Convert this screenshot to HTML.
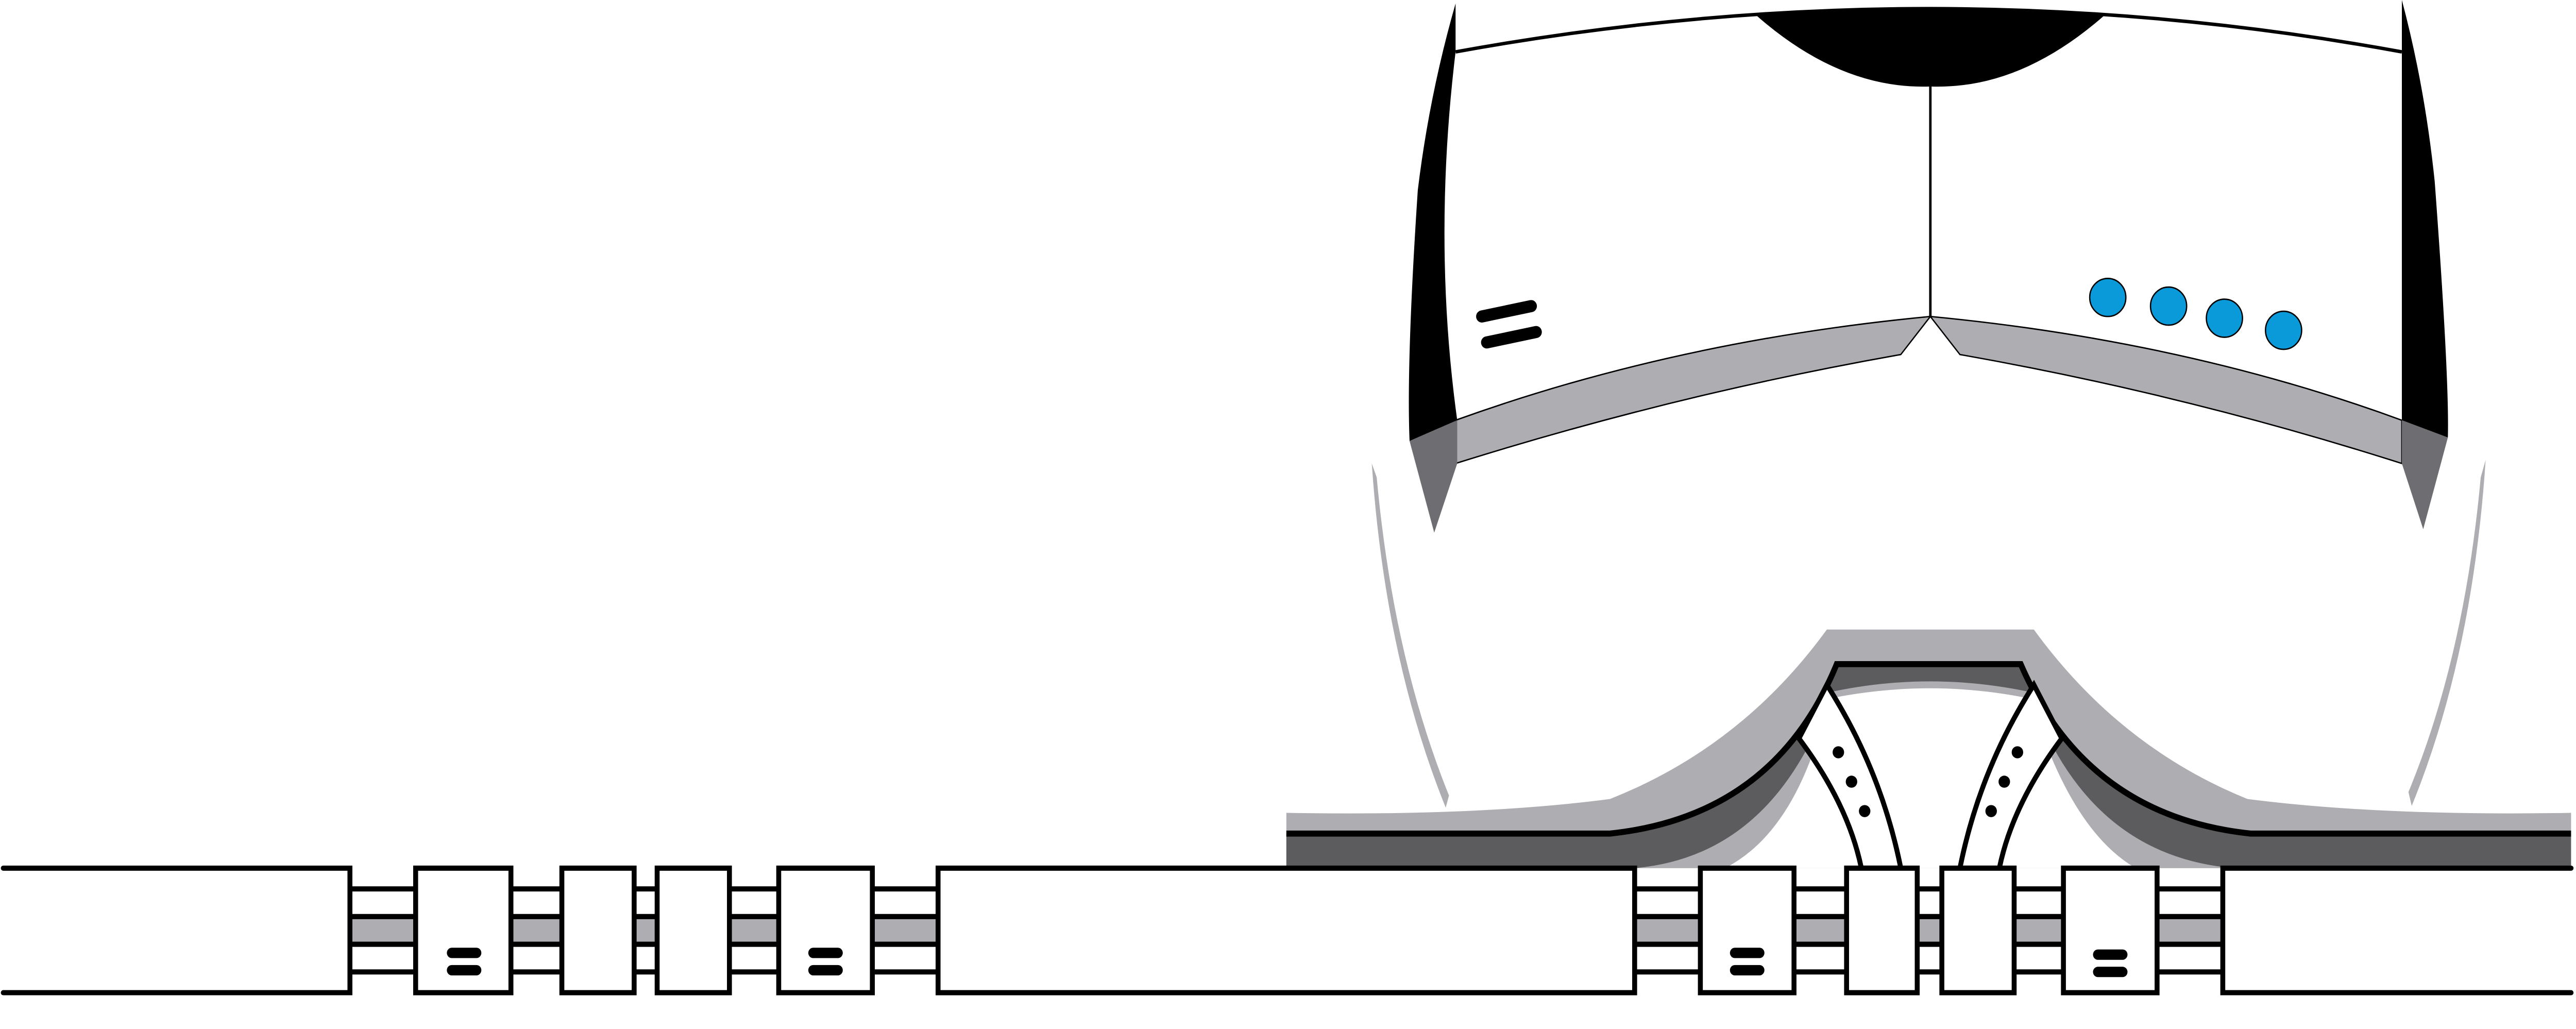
<!DOCTYPE html>
<html><head><meta charset="utf-8"><style>
html,body{margin:0;padding:0;background:#fff;overflow:hidden;width:100%;height:100%;}
svg{display:block;width:100%;height:100%;}
</style></head><body>
<svg width="100%" height="100%" viewBox="0 0 1568 595" preserveAspectRatio="none" xmlns="http://www.w3.org/2000/svg">
<rect width="1568" height="595" fill="#fff"/>
<g>
<path d="M886,30 Q1175,-20 1462,30" fill="none" stroke="#000" stroke-width="2"/>
<path d="M1068,8 Q1120,52 1175,50 Q1230,52 1282,8 Q1175,2 1068,8Z" fill="#000"/>
<line x1="1175" y1="50" x2="1175" y2="183" stroke="#000" stroke-width="1.5"/>
<path d="M886,2 Q870,55 863,110 Q856,210 858,255 L887,243 Q872,140 886,30Z" fill="#000"/>
<path d="M1462,0 Q1476,50 1482,105 Q1491,220 1490,253 L1462,243Z" fill="#000"/>
<path d="M886,243 Q1020,197 1175,183 L1157,205 Q1020,228 886,268Z" fill="#aeadb2" stroke="#000" stroke-width="0.8"/>
<path d="M1462,243 Q1330,197 1175,183 L1193,205 Q1330,228 1462,268Z" fill="#aeadb2" stroke="#000" stroke-width="0.8"/>
<path d="M858,255 L887,243 L887,268 L873,308Z" fill="#6e6d72"/>
<path d="M1462,243 L1490,253 L1475,306 L1462,268Z" fill="#6e6d72"/>
<g stroke="#000" stroke-width="7" stroke-linecap="round">
<line x1="902" y1="183" x2="932" y2="177"/>
<line x1="905" y1="198" x2="935" y2="192"/>
</g>
<g fill="#0a9ad9" stroke="#000" stroke-width="0.8">
<circle cx="1283" cy="172" r="11"/><circle cx="1320" cy="177" r="11"/>
<circle cx="1354" cy="184" r="11"/><circle cx="1390" cy="191" r="11"/>
</g>
<path d="M835,268 L838,276 Q848,380 882,460 L880,467 Q843,380 835,268Z" fill="#aeadb2"/>
<path d="M1513,266 L1510,276 Q1500,380 1466,458 L1468,466 Q1505,380 1513,266Z" fill="#aeadb2"/>
</g>
<g>
<path d="M783,470 Q900,472 980,462 Q1060,432 1112,364 L1238,364 Q1290,432 1368,462 Q1450,472 1565,470 L1565,502 L783,502Z" fill="#aeadb2"/>
<path d="M783,482 L980,482 Q1080,472 1118,384 L1230,384 Q1270,472 1370,482 L1565,482 L1565,502 L1360,502 Q1270,495 1235,400 Q1175,388 1115,400 Q1080,495 995,502 L783,502Z" fill="#5c5c5e"/>
<path d="M1113,404 Q1175,392 1236,404 Q1260,480 1300,502 L1050,502 Q1095,480 1113,404Z" fill="#fff"/>
<path d="M783,482 L980,482 Q1080,472 1118,384 L1230,384 Q1270,472 1370,482 L1565,482" fill="none" stroke="#000" stroke-width="3.5"/>
<g>
<path d="M1112,396 Q1145,445 1157,502 L1133,502 Q1125,465 1095,427Z" fill="#fff" stroke="#000" stroke-width="3"/>
<circle cx="1119" cy="435" r="3.5"/><circle cx="1127" cy="452" r="3.5"/><circle cx="1135" cy="469" r="3.5"/>
</g>
<g>
<path d="M1238,396 Q1205,445 1193,502 L1217,502 Q1225,465 1255,427Z" fill="#fff" stroke="#000" stroke-width="3"/>
<circle cx="1228" cy="435" r="3.5"/><circle cx="1220" cy="452" r="3.5"/><circle cx="1212" cy="469" r="3.5"/>
</g>
</g>
<g stroke="#000" stroke-width="3" stroke-linecap="round">
<rect x="0" y="514" width="1565" height="48" fill="#fff" stroke="none"/>
<rect x="0" y="530" width="1565" height="16" fill="#aeadb2" stroke="none"/>
<line x1="2" y1="514" x2="1565" y2="514"/><line x1="2" y1="530" x2="1565" y2="530"/>
<line x1="2" y1="546" x2="1565" y2="546"/><line x1="2" y1="562" x2="1565" y2="562"/>
<rect x="0" y="502" width="213" height="72" fill="#fff" stroke="none"/>
<path d="M2,502 L213,502 L213,574 L2,574" fill="none"/>
<rect x="571" y="502" width="424" height="72" fill="#fff"/>
<rect x="1353" y="502" width="214" height="72" fill="#fff" stroke="none"/>
<path d="M1565,502 L1353,502 L1353,574 L1565,574" fill="none"/>
<rect x="253" y="502" width="58" height="72" fill="#fff"/>
<rect x="342" y="502" width="44" height="72" fill="#fff"/>
<rect x="400" y="502" width="44" height="72" fill="#fff"/>
<rect x="474" y="502" width="57" height="72" fill="#fff"/>
<rect x="1035" y="502" width="57" height="72" fill="#fff"/>
<rect x="1124" y="502" width="43" height="72" fill="#fff"/>
<rect x="1182" y="502" width="44" height="72" fill="#fff"/>
<rect x="1256" y="502" width="57" height="72" fill="#fff"/>
<g stroke-width="6">
<line x1="275" y1="551" x2="290" y2="551"/><line x1="275" y1="561" x2="290" y2="561"/>
<line x1="495" y1="551" x2="510" y2="551"/><line x1="495" y1="561" x2="510" y2="561"/>
<line x1="1056" y1="551" x2="1071" y2="551"/><line x1="1056" y1="561" x2="1071" y2="561"/>
<line x1="1277" y1="552" x2="1292" y2="552"/><line x1="1277" y1="562" x2="1292" y2="562"/>
</g>
</g>
</svg>
</body></html>
